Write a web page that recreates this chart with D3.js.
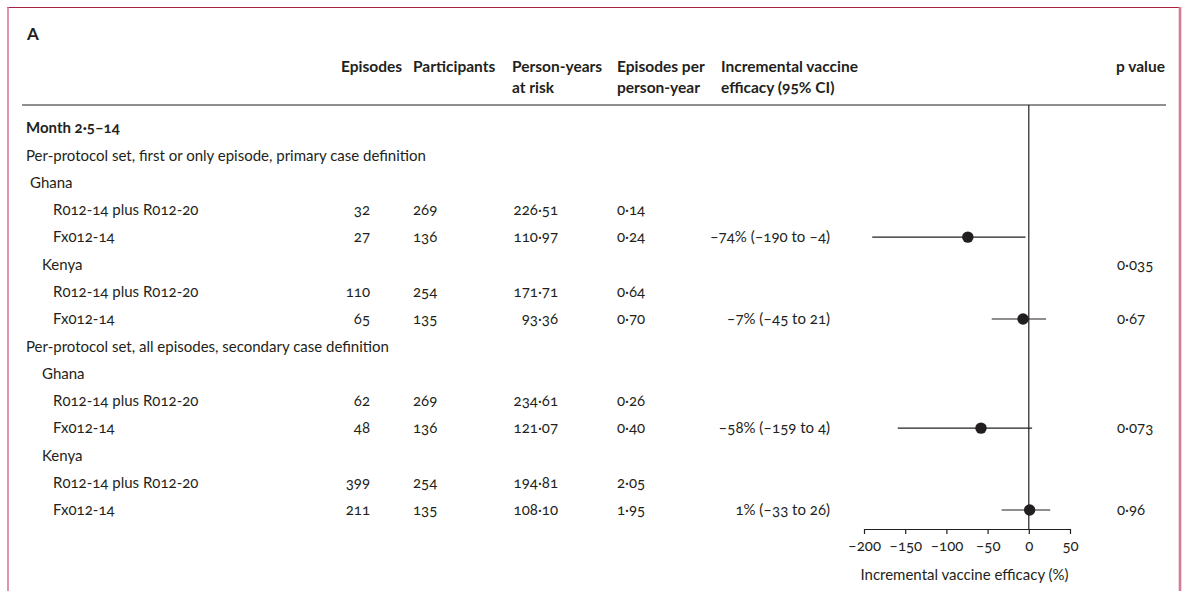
<!DOCTYPE html>
<html>
<head>
<meta charset="utf-8">
<script src="https://cdn.jsdelivr.net/npm/d3@7"></script>
<style>
  body { margin: 0; background: #fff; }
  svg text { font-family: Lato, "Noto Sans", sans-serif; fill: #231f20; font-variant-numeric: oldstyle-nums; }
  .bold { font-weight: bold; }
</style>
</head>
<body>
<div id="chart"></div>
<script>
// row labels of the table, top to bottom
var rowLabels = [
  "Month 2·5–14",
  "Per-protocol set, first or only episode, primary case definition",
  "Ghana",
  "R012-14 plus R012-20",
  "Fx012-14",
  "Kenya",
  "R012-14 plus R012-20",
  "Fx012-14",
  "Per-protocol set, all episodes, secondary case definition",
  "Ghana",
  "R012-14 plus R012-20",
  "Fx012-14",
  "Kenya",
  "R012-14 plus R012-20",
  "Fx012-14"
];
var rowKinds = ["period", "set", "country", "arm", "arm", "country", "arm", "arm",
                "set", "country", "arm", "arm", "country", "arm", "arm"];

// table columns (null = empty cell)
var episodes     = [null, null, null, "32", "27", null, "110", "65", null, null, "62", "48", null, "399", "211"];
var participants = [null, null, null, "269", "136", null, "254", "135", null, null, "269", "136", null, "254", "135"];
var personYears  = [null, null, null, "226·51", "110·97", null, "171·71", "93·36", null, null, "234·61", "121·07", null, "194·81", "108·10"];
var perPersonYr  = [null, null, null, "0·14", "0·24", null, "0·64", "0·70", null, null, "0·26", "0·40", null, "2·05", "1·95"];
var efficacyText = [null, null, null, null, "–74% (–190 to –4)", null, null, "–7% (–45 to 21)", null, null, null, "–58% (–159 to 4)", null, null, "1% (–33 to 26)"];
var pValues      = [null, null, null, null, null, "0·035", null, "0·67", null, null, null, "0·073", null, null, "0·96"];

// forest plot estimates
var estRows  = [4, 7, 11, 14];
var estimate = [-74, -7, -58, 1];
var ciLow    = [-190, -45, -159, -33];
var ciHigh   = [-4, 21, 4, 26];

var xTicks = [-200, -150, -100, -50, 0, 50];

var svgWidth = 1184;
var svgHeight = 591;

var svg = d3.select("#chart")
  .append("svg")
  .attr("width", svgWidth)
  .attr("height", svgHeight);

// frame
svg.append("line").attr("x1", 7).attr("x2", 1181).attr("y1", 7.5).attr("y2", 7.5)
  .attr("stroke", "#a8203f").attr("stroke-width", 1.2);
svg.append("line").attr("x1", 8).attr("x2", 8).attr("y1", 7).attr("y2", svgHeight)
  .attr("stroke", "#d97a95").attr("stroke-width", 1.6);
svg.append("line").attr("x1", 1180).attr("x2", 1180).attr("y1", 7).attr("y2", svgHeight)
  .attr("stroke", "#d97a95").attr("stroke-width", 2.6);

svg.append("text").attr("x", 27).attr("y", 40).attr("class", "bold")
  .style("font-size", "17px").text("A");

// column headers
var fs = "15px";
var hfs = "15.5px";
var headers = [
  { x: 341, anchor: "start", lines: ["Episodes"] },
  { x: 413, anchor: "start", lines: ["Participants"] },
  { x: 512, anchor: "start", lines: ["Person-years", "at risk"] },
  { x: 617, anchor: "start", lines: ["Episodes per", "person-year"] },
  { x: 721, anchor: "start", lines: ["Incremental vaccine", "efficacy (95% CI)"] },
  { x: 1165, anchor: "end",  lines: ["p value"] }
];
headers.forEach(function(h) {
  h.lines.forEach(function(l, i) {
    svg.append("text").attr("class", "bold")
      .attr("x", h.x).attr("y", 72 + i * 20.5)
      .attr("text-anchor", h.anchor)
      .style("font-size", hfs)
      .text(l);
  });
});

svg.append("line").attr("x1", 22).attr("x2", 1166).attr("y1", 105).attr("y2", 105)
  .attr("stroke", "#231f20").attr("stroke-width", 1.2);

// row positions
var yScale = d3.scalePoint()
  .domain(d3.range(rowLabels.length))
  .range([128, 510]);

var indent = { period: 26, set: 26, country: 42, arm: 53 };
svg.selectAll(".rowlabel")
  .data(rowLabels)
  .enter()
  .append("text")
  .attr("class", (d, i) => rowKinds[i] == "period" ? "rowlabel bold" : "rowlabel")
  // first Ghana sits further left than the other country rows
  .attr("x", (d, i) => indent[rowKinds[i]] - (i == 2 ? 12 : 0))
  .attr("y", (d, i) => yScale(i))
  .attr("dy", "0.35em")
  .style("font-size", fs)
  .text(d => d);

function col(values, x, anchor) {
  var g = svg.append("g");
  values.forEach(function(v, i) {
    if (v == null) return;
    g.append("text")
      .attr("x", x)
      .attr("y", yScale(i))
      .attr("dy", "0.35em")
      .attr("text-anchor", anchor)
      .style("font-size", fs)
      .text(v);
  });
}
col(episodes, 370, "end");
col(participants, 413, "start");
col(personYears, 558, "end");
col(perPersonYr, 617, "start");
col(efficacyText, 830, "end");
col(pValues, 1117, "start");

// forest plot
var xScale = d3.scaleLinear()
  .domain([-200, 50])
  .range([864, 1070]);

var axisY = 529;

svg.append("line")
  .attr("x1", xScale(0)).attr("x2", xScale(0))
  .attr("y1", 105).attr("y2", axisY)
  .attr("stroke", "#231f20").attr("stroke-width", 1.2);

var est = estRows.map(function(r, i) {
  return { row: r, est: estimate[i], lo: ciLow[i], hi: ciHigh[i] };
});

svg.selectAll(".ci")
  .data(est)
  .enter()
  .append("line")
  .attr("class", "ci")
  .attr("x1", d => xScale(d.lo))
  .attr("x2", d => xScale(d.hi))
  .attr("y1", d => yScale(d.row))
  .attr("y2", d => yScale(d.row))
  .attr("stroke", "#231f20")
  .attr("stroke-width", 1.2);

svg.selectAll(".pt")
  .data(est)
  .enter()
  .append("circle")
  .attr("class", "pt")
  .attr("cx", d => xScale(d.est))
  .attr("cy", d => yScale(d.row))
  .attr("r", 5.7)
  .attr("fill", "#231f20");

var bottomAxis = d3.axisBottom(xScale)
  .tickValues(xTicks)
  .tickSize(5)
  .tickSizeOuter(0)
  .tickFormat(d => d < 0 ? "–" + Math.abs(d) : d);

var axisG = svg.append("g")
  .attr("transform", `translate(0, ${axisY})`)
  .call(bottomAxis);
axisG.select(".domain").attr("stroke", "#231f20").attr("stroke-width", 1.2);
axisG.selectAll(".tick line").attr("stroke", "#231f20").attr("stroke-width", 1.2);
axisG.selectAll(".tick text")
  .attr("y", 11)
  .style("font-size", fs)
  .style("font-family", "Lato, 'Noto Sans', sans-serif")
  .attr("fill", "#231f20");

svg.append("text")
  .attr("x", xScale(-78))
  .attr("y", 580)
  .attr("text-anchor", "middle")
  .style("font-size", fs)
  .text("Incremental vaccine efficacy (%)");
</script>
</body>
</html>
